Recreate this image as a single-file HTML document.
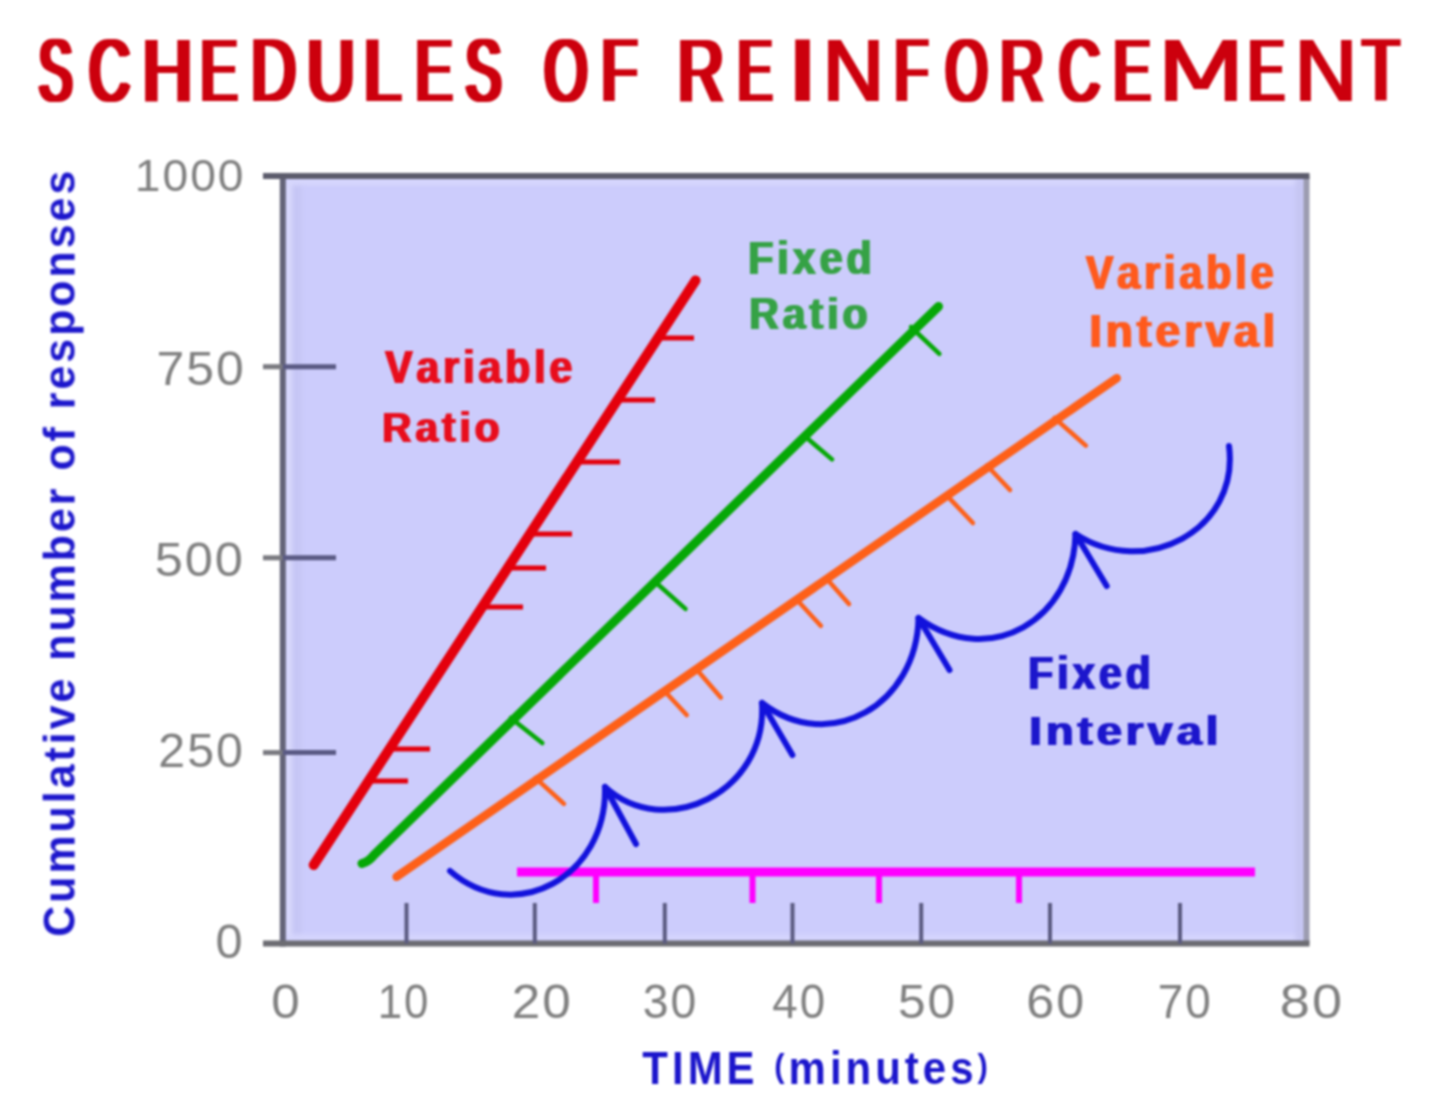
<!DOCTYPE html>
<html><head><meta charset="utf-8"><title>Schedules of Reinforcement</title><style>html,body{margin:0;padding:0;background:#fff;width:1440px;height:1098px;overflow:hidden}</style></head><body>
<svg width="1440" height="1098" viewBox="0 0 1440 1098" style="display:block;filter:blur(0.8px);font-family:'Liberation Sans',Arial,sans-serif;font-kerning:none">
<rect width="1440" height="1098" fill="#ffffff"/>
<defs><filter id="tb" x="-5%" y="-20%" width="110%" height="140%"><feMorphology operator="dilate" radius="3.2 0.4"/></filter></defs>
<text y="100.60" fill="#cc0410" font-weight="normal" filter="url(#tb)"><tspan x="38.94" textLength="33.14" lengthAdjust="spacingAndGlyphs" font-size="89.25">S</tspan><tspan x="89.35" textLength="40.60" lengthAdjust="spacingAndGlyphs" font-size="89.25">C</tspan><tspan x="142.53" textLength="49.90" lengthAdjust="spacingAndGlyphs" font-size="89.25">H</tspan><tspan x="200.72" textLength="36.43" lengthAdjust="spacingAndGlyphs" font-size="89.25">E</tspan><tspan x="251.13" textLength="44.63" lengthAdjust="spacingAndGlyphs" font-size="89.25">D</tspan><tspan x="307.09" textLength="47.82" lengthAdjust="spacingAndGlyphs" font-size="89.25">U</tspan><tspan x="363.69" textLength="37.34" lengthAdjust="spacingAndGlyphs" font-size="89.25">L</tspan><tspan x="415.72" textLength="36.43" lengthAdjust="spacingAndGlyphs" font-size="89.25">E</tspan><tspan x="465.79" textLength="35.45" lengthAdjust="spacingAndGlyphs" font-size="89.25">S</tspan> <tspan x="544.59" textLength="42.84" lengthAdjust="spacingAndGlyphs" font-size="89.25">O</tspan><tspan x="601.40" textLength="35.74" lengthAdjust="spacingAndGlyphs" font-size="89.25">F</tspan> <tspan x="678.01" textLength="45.73" lengthAdjust="spacingAndGlyphs" font-size="89.25">R</tspan><tspan x="738.02" textLength="33.97" lengthAdjust="spacingAndGlyphs" font-size="89.25">E</tspan><tspan x="789.69" textLength="25.62" lengthAdjust="spacingAndGlyphs" font-size="89.25">I</tspan><tspan x="819.82" textLength="70.30" lengthAdjust="spacingAndGlyphs" font-size="84.22" font-family="DejaVu Sans" font-weight="200">N</tspan><tspan x="894.74" textLength="33.24" lengthAdjust="spacingAndGlyphs" font-size="89.25">F</tspan><tspan x="945.66" textLength="41.71" lengthAdjust="spacingAndGlyphs" font-size="89.25">O</tspan><tspan x="1000.28" textLength="43.30" lengthAdjust="spacingAndGlyphs" font-size="89.25">R</tspan><tspan x="1059.35" textLength="40.60" lengthAdjust="spacingAndGlyphs" font-size="89.25">C</tspan><tspan x="1113.72" textLength="36.43" lengthAdjust="spacingAndGlyphs" font-size="89.25">E</tspan><tspan x="1148.74" textLength="104.52" lengthAdjust="spacingAndGlyphs" font-size="84.22" font-family="DejaVu Sans" font-weight="200">M</tspan><tspan x="1248.87" textLength="35.20" lengthAdjust="spacingAndGlyphs" font-size="89.25">E</tspan><tspan x="1291.57" textLength="71.87" lengthAdjust="spacingAndGlyphs" font-size="84.22" font-family="DejaVu Sans" font-weight="200">N</tspan><tspan x="1362.87" textLength="36.30" lengthAdjust="spacingAndGlyphs" font-size="89.25">T</tspan></text>
<rect x="282.8" y="175.9" width="1023.7" height="767.6" fill="#ccccfc"/>
<defs><filter id="bl2" x="-5%" y="-5%" width="110%" height="110%"><feGaussianBlur stdDeviation="2"/></filter></defs>
<g filter="url(#bl2)">
<rect x="285.8" y="178.9" width="6" height="761.6" fill="#dadafd"/>
<rect x="291.8" y="178.9" width="10" height="761.6" fill="#c6c6f5"/>
<rect x="285.8" y="178.9" width="1017.7" height="6" fill="#d8d8fd"/>
<rect x="285.8" y="934.5" width="1017.7" height="6" fill="#d6d6fd"/>
<rect x="1295.5" y="178.9" width="8" height="761.6" fill="#c6c6f2"/>
</g>
<line x1="1306.5" y1="175.9" x2="1306.5" y2="943.5" stroke="#9c9cb0" stroke-width="6"/>
<line x1="282.8" y1="172.9" x2="282.8" y2="946.5" stroke="#646478" stroke-width="6"/>
<line x1="263" y1="175.9" x2="1309.5" y2="175.9" stroke="#5c5c6c" stroke-width="6"/>
<line x1="263" y1="943.5" x2="1309.5" y2="943.5" stroke="#6c6c72" stroke-width="6"/>
<line x1="263" y1="366.7" x2="282.8" y2="366.7" stroke="#7a7a80" stroke-width="5"/>
<line x1="282.8" y1="366.7" x2="336" y2="366.7" stroke="#5a5a84" stroke-width="5"/>
<line x1="263" y1="557.8" x2="282.8" y2="557.8" stroke="#7a7a80" stroke-width="5"/>
<line x1="282.8" y1="557.8" x2="336" y2="557.8" stroke="#5a5a84" stroke-width="5"/>
<line x1="263" y1="752.6" x2="282.8" y2="752.6" stroke="#7a7a80" stroke-width="5"/>
<line x1="282.8" y1="752.6" x2="336" y2="752.6" stroke="#5a5a84" stroke-width="5"/>
<line x1="406.5" y1="903" x2="406.5" y2="943.5" stroke="#5a5a80" stroke-width="4"/>
<line x1="534.8" y1="903" x2="534.8" y2="943.5" stroke="#5a5a80" stroke-width="4"/>
<line x1="664.8" y1="903" x2="664.8" y2="943.5" stroke="#5a5a80" stroke-width="4"/>
<line x1="792.5" y1="903" x2="792.5" y2="943.5" stroke="#5a5a80" stroke-width="4"/>
<line x1="921.2" y1="903" x2="921.2" y2="943.5" stroke="#5a5a80" stroke-width="4"/>
<line x1="1050" y1="903" x2="1050" y2="943.5" stroke="#5a5a80" stroke-width="4"/>
<line x1="1180" y1="903" x2="1180" y2="943.5" stroke="#5a5a80" stroke-width="4"/>
<text transform="translate(134.78 190.50) scale(1.0571 1)" font-size="43.68" font-weight="normal" fill="#808080" letter-spacing="1.89" >1000</text>
<text transform="translate(156.44 385.00) scale(1.0552 1)" font-size="47.26" font-weight="normal" fill="#808080" letter-spacing="1.90" >750</text>
<text transform="translate(154.68 576.00) scale(1.0690 1)" font-size="47.26" font-weight="normal" fill="#808080" letter-spacing="1.87" >500</text>
<text transform="translate(158.37 767.00) scale(1.0210 1)" font-size="47.26" font-weight="normal" fill="#808080" letter-spacing="1.96" >250</text>
<text transform="translate(215.60 958.00) scale(1.0010 1)" font-size="48.69" font-weight="normal" fill="#808080" letter-spacing="2.00" >0</text>
<text transform="translate(271.30 1018.00) scale(1.0844 1)" font-size="47.26" font-weight="normal" fill="#808080" letter-spacing="1.84" >0</text>
<text transform="translate(377.66 1018.00) scale(0.9274 1)" font-size="47.26" font-weight="normal" fill="#808080" letter-spacing="2.16" >10</text>
<text transform="translate(511.82 1018.00) scale(1.0859 1)" font-size="47.26" font-weight="normal" fill="#808080" letter-spacing="1.84" >20</text>
<text transform="translate(642.63 1018.00) scale(0.9811 1)" font-size="47.26" font-weight="normal" fill="#808080" letter-spacing="2.04" >30</text>
<text transform="translate(772.25 1018.00) scale(0.9670 1)" font-size="47.26" font-weight="normal" fill="#808080" letter-spacing="2.07" >40</text>
<text transform="translate(898.01 1018.00) scale(1.0506 1)" font-size="47.26" font-weight="normal" fill="#808080" letter-spacing="1.90" >50</text>
<text transform="translate(1026.35 1018.00) scale(1.0616 1)" font-size="47.26" font-weight="normal" fill="#808080" letter-spacing="1.88" >60</text>
<text transform="translate(1157.65 1018.00) scale(0.9710 1)" font-size="47.26" font-weight="normal" fill="#808080" letter-spacing="2.06" >70</text>
<text transform="translate(1279.85 1018.00) scale(1.1465 1)" font-size="47.26" font-weight="normal" fill="#808080" letter-spacing="1.74" >80</text>
<defs><filter id="lb2" x="-5%" y="-5%" width="110%" height="110%"><feMorphology operator="dilate" radius="0.4 0.4"/></filter></defs>
<g filter="url(#lb2)">
<text transform="translate(642.33 1083.60) scale(0.9260 1)" font-weight="bold" fill="#1c16cc" letter-spacing="4.32" xml:space="preserve"><tspan font-size="45.35" dy="0.00">TIME </tspan><tspan font-size="33.47" dy="-6.95">(</tspan><tspan font-size="45.35" dy="6.95">minutes</tspan><tspan font-size="33.47" dy="-6.95">)</tspan></text>
<text transform="translate(74.60 936.76) rotate(-90) scale(0.9651 1)" font-size="44.44" font-weight="bold" fill="#1c16cc" letter-spacing="3.11">Cumulative number of responses</text>
</g>
<line x1="313.7" y1="865" x2="695.5" y2="280.4" stroke="#e4000c" stroke-width="10" stroke-linecap="round"/>
<line x1="657.8816626753335" y1="338" x2="694" y2="338" stroke="#e4000c" stroke-width="5" stroke-linecap="butt"/>
<line x1="617.3897023605884" y1="400" x2="655" y2="400" stroke="#e4000c" stroke-width="5" stroke-linecap="butt"/>
<line x1="576.8977420458433" y1="462" x2="620" y2="462" stroke="#e4000c" stroke-width="5" stroke-linecap="butt"/>
<line x1="529.8748203900102" y1="534" x2="572" y2="534" stroke="#e4000c" stroke-width="5" stroke-linecap="butt"/>
<line x1="507.6695518303113" y1="568" x2="546" y2="568" stroke="#e4000c" stroke-width="5" stroke-linecap="butt"/>
<line x1="482.19880260006846" y1="607" x2="523" y2="607" stroke="#e4000c" stroke-width="5" stroke-linecap="butt"/>
<line x1="389.4591515566199" y1="749" x2="430" y2="749" stroke="#e4000c" stroke-width="5" stroke-linecap="butt"/>
<line x1="368.56007526513855" y1="781" x2="408" y2="781" stroke="#e4000c" stroke-width="5" stroke-linecap="butt"/>
<path d="M362,863.5 Q369,861.5 374,855 L938.5,306.4" fill="none" stroke="#06a806" stroke-width="9" stroke-linecap="round" stroke-linejoin="round"/>
<line x1="911" y1="327" x2="939.4" y2="353.8" stroke="#06a806" stroke-width="4.5" stroke-linecap="round"/>
<line x1="807" y1="438" x2="832" y2="459.4" stroke="#06a806" stroke-width="4.5" stroke-linecap="round"/>
<line x1="655" y1="581.7" x2="685.5" y2="608.9" stroke="#06a806" stroke-width="4.5" stroke-linecap="round"/>
<line x1="510.79999999999995" y1="718" x2="542.3" y2="743" stroke="#06a806" stroke-width="4.5" stroke-linecap="round"/>
<line x1="396.6" y1="876.8" x2="1116.7" y2="378.2" stroke="#fe6018" stroke-width="8.5" stroke-linecap="round"/>
<line x1="535.5" y1="778" x2="563.9" y2="803.8" stroke="#fe6018" stroke-width="4.5" stroke-linecap="round"/>
<line x1="664.7" y1="691.3" x2="686.7" y2="715" stroke="#fe6018" stroke-width="4.5" stroke-linecap="round"/>
<line x1="698" y1="671" x2="720.8" y2="697.5" stroke="#fe6018" stroke-width="4.5" stroke-linecap="round"/>
<line x1="798" y1="601" x2="820.8" y2="625.8" stroke="#fe6018" stroke-width="4.5" stroke-linecap="round"/>
<line x1="826" y1="578" x2="849" y2="604" stroke="#fe6018" stroke-width="4.5" stroke-linecap="round"/>
<line x1="946" y1="494.6" x2="972.9" y2="523" stroke="#fe6018" stroke-width="4.5" stroke-linecap="round"/>
<line x1="987" y1="465.5" x2="1010" y2="490" stroke="#fe6018" stroke-width="4.5" stroke-linecap="round"/>
<line x1="1054.6" y1="418" x2="1085.8" y2="445.6" stroke="#fe6018" stroke-width="4.5" stroke-linecap="round"/>
<line x1="517" y1="872" x2="1255" y2="872" stroke="#ff00ff" stroke-width="9" stroke-linecap="butt"/>
<line x1="596" y1="872" x2="596" y2="903" stroke="#ff00ff" stroke-width="6" stroke-linecap="butt"/>
<line x1="752.5" y1="872" x2="752.5" y2="903" stroke="#ff00ff" stroke-width="6" stroke-linecap="butt"/>
<line x1="879" y1="872" x2="879" y2="903" stroke="#ff00ff" stroke-width="6" stroke-linecap="butt"/>
<line x1="1019" y1="872" x2="1019" y2="903" stroke="#ff00ff" stroke-width="6" stroke-linecap="butt"/>
<path d="M450.0,871.0 C514.5,927.1 607.3,876.9 605.0,787.0 M605.0,787.0 C664.6,841.3 767.4,792.8 762.0,703.0 M762.0,703.0 C830.4,755.6 916.8,704.0 918.5,618.0 M918.5,618.0 C990.2,669.8 1073.6,618.9 1075.5,534.0 M1075.5,534.0 C1145.0,579.3 1239.8,530.1 1229.0,446.0" fill="none" stroke="#1212dc" stroke-width="6" stroke-linecap="round" stroke-linejoin="round"/>
<line x1="605" y1="787" x2="636" y2="844" stroke="#1212dc" stroke-width="6" stroke-linecap="round"/>
<line x1="762" y1="703" x2="792.4" y2="755" stroke="#1212dc" stroke-width="6" stroke-linecap="round"/>
<line x1="918.5" y1="618" x2="949.5" y2="670" stroke="#1212dc" stroke-width="6" stroke-linecap="round"/>
<line x1="1075.5" y1="534" x2="1106.7" y2="586" stroke="#1212dc" stroke-width="6" stroke-linecap="round"/>
<defs><filter id="lb" x="-10%" y="-20%" width="120%" height="140%"><feMorphology operator="dilate" radius="1.0 0.3"/></filter></defs>
<g filter="url(#lb)">
<text transform="translate(385.22 382.70) scale(0.9010 1)" font-size="45.40" font-weight="bold" fill="#e8101c" letter-spacing="4.44" >Variable</text>
<text transform="translate(382.29 441.70) scale(0.9563 1)" font-size="42.37" font-weight="bold" fill="#e8101c" letter-spacing="4.18" >Ratio</text>
<text transform="translate(748.25 273.70) scale(0.9062 1)" font-size="45.40" font-weight="bold" fill="#36a244" letter-spacing="4.41" >Fixed</text>
<text transform="translate(749.26 329.10) scale(0.9328 1)" font-size="43.89" font-weight="bold" fill="#36a244" letter-spacing="4.29" >Ratio</text>
<text transform="translate(1086.02 288.60) scale(0.8614 1)" font-size="47.61" font-weight="bold" fill="#ff5a1e" letter-spacing="4.64" >Variable</text>
<text transform="translate(1089.43 346.70) scale(0.9706 1)" font-size="45.68" font-weight="bold" fill="#ff5a1e" letter-spacing="4.12" >Interval</text>
<text transform="translate(1028.27 688.70) scale(0.8919 1)" font-size="45.68" font-weight="bold" fill="#1c16cc" letter-spacing="4.48" >Fixed</text>
<text transform="translate(1029.37 745.10) scale(1.0978 1)" font-size="41.26" font-weight="bold" fill="#1c16cc" letter-spacing="3.64" >Interval</text>
</g>
</svg>
</body></html>
